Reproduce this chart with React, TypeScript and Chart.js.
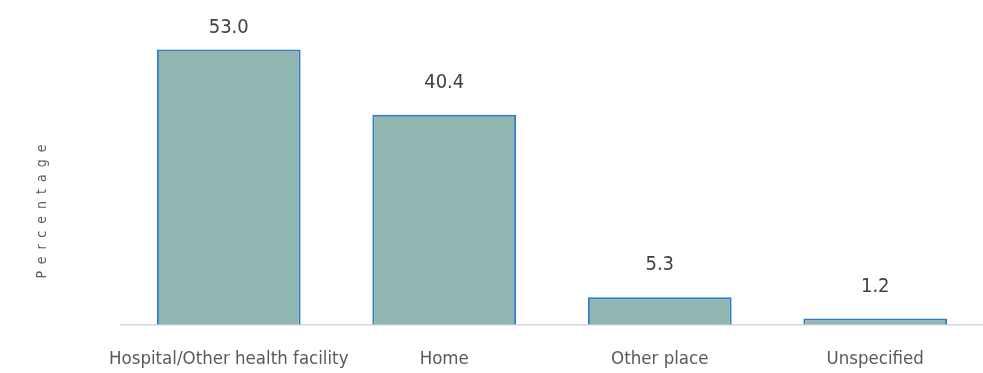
import React, { useEffect, useRef } from "react";
import { Chart, registerables } from "chart.js";

Chart.register(...registerables);

const categories = ["Hospital/Other health facility", "Home", "Other place", "Unspecified"];
const values = [53.0, 40.4, 5.3, 1.2];
const valueLabels = ["53.0", "40.4", "5.3", "1.2"];
const yTitle = "Percentage";

const FONT = "'Liberation Sans Narrow', 'DejaVu Sans Condensed', sans-serif";

const labelPlugin = {
  id: "customLabels",
  afterDatasetsDraw(chart: any) {
    const ctx = chart.ctx;
    const meta = chart.getDatasetMeta(0);
    ctx.save();
    ctx.fillStyle = "#404040";
    ctx.font = `20px ${FONT}`;
    ctx.textAlign = "center";
    ctx.textBaseline = "middle";
    meta.data.forEach((bar: any, i: number) => {
      ctx.fillText(valueLabels[i], bar.x, Math.max(28, bar.y - 32));
    });
    ctx.restore();
    ctx.save();
    ctx.translate(42, 208);
    ctx.rotate(-Math.PI / 2);
    ctx.fillStyle = "#595959";
    ctx.font = `14px ${FONT}`;
    (ctx as any).letterSpacing = "7px";
    ctx.textAlign = "center";
    ctx.textBaseline = "middle";
    ctx.fillText(yTitle, 0, 0);
    ctx.restore();
  },
};

export default function App() {
  const ref = useRef<HTMLCanvasElement>(null);
  useEffect(() => {
    document.body.style.margin = "0";
    document.body.style.overflow = "hidden";
    const chart = new Chart(ref.current!, {
      type: "bar",
      data: {
        labels: categories,
        datasets: [
          {
            data: values,
            backgroundColor: "#8fb6b1",
            borderColor: "#2e7bc4",
            borderWidth: 2,
            barPercentage: 0.667,
            categoryPercentage: 1,
          },
        ],
      },
      options: {
        animation: false,
        responsive: false,
        maintainAspectRatio: false,
        layout: { padding: { left: 121, right: 0, top: 13, bottom: 15 } },
        plugins: { legend: { display: false }, tooltip: { enabled: false } },
        scales: {
          y: { display: false, min: 0, max: 60 },
          x: {
            grid: { display: false },
            border: { color: "#d9d9d9", width: 1.5 },
            ticks: {
              color: "#595959",
              font: { family: FONT, size: 18.5 },
              padding: 15,
              maxRotation: 0,
              autoSkip: false,
            },
          },
        },
      },
      plugins: [labelPlugin],
    });
    return () => chart.destroy();
  }, []);
  return (
    <div style={{ position: "fixed", left: 0, top: 0, width: 983, height: 373, overflow: "hidden", background: "#fff" }}>
      <canvas ref={ref} width={983} height={400} style={{ display: "block", width: 983, height: 400 }} />
    </div>
  );
}
